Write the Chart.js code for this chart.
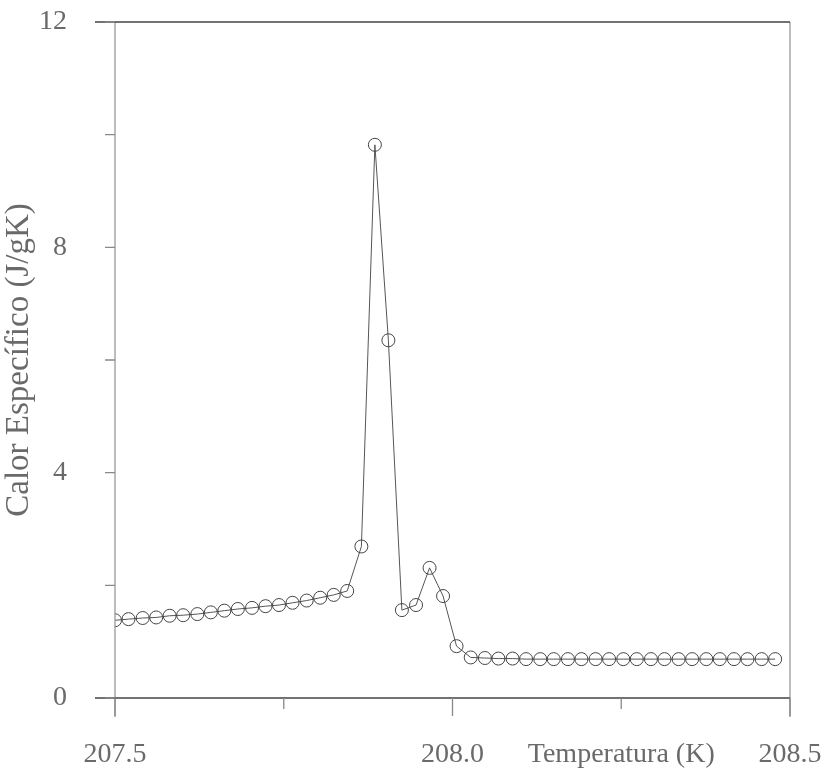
<!DOCTYPE html>
<html>
<head>
<meta charset="utf-8">
<script src="https://cdn.jsdelivr.net/npm/chart.js@4"></script>
<style>
  html, body { margin: 0; padding: 0; background: #fff; }
  #wrap { width: 835px; height: 770px; }
</style>
</head>
<body>
<div id="wrap"><canvas id="grafica" width="835" height="770"></canvas></div>
<script>
// temperatura (K)
const temperaturas = [
  207.500, 207.520, 207.541, 207.561, 207.581, 207.601, 207.622, 207.642,
  207.662, 207.682, 207.703, 207.723, 207.743, 207.763, 207.784, 207.804,
  207.824, 207.844, 207.865, 207.885, 207.905, 207.925, 207.946, 207.966,
  207.986, 208.006, 208.027, 208.048, 208.068, 208.089, 208.109, 208.130,
  208.150, 208.171, 208.191, 208.212, 208.232, 208.253, 208.273, 208.294,
  208.314, 208.335, 208.355, 208.376, 208.396, 208.417, 208.437, 208.458,
  208.478
];
// calor especifico (J/gK)
const calor = [
  1.38, 1.40, 1.42, 1.43, 1.46, 1.47, 1.49, 1.52,
  1.55, 1.58, 1.60, 1.63, 1.65, 1.69, 1.73, 1.78,
  1.83, 1.90, 2.69, 9.82, 6.35, 1.56, 1.65, 2.31,
  1.81, 0.92, 0.72, 0.71, 0.70, 0.70, 0.69, 0.69,
  0.69, 0.69, 0.69, 0.69, 0.69, 0.69, 0.69, 0.69,
  0.69, 0.69, 0.69, 0.69, 0.69, 0.69, 0.69, 0.69,
  0.69
];
const xTicks = [207.5, 207.75, 208.0, 208.25, 208.5];
const xTickLabels = ['207.5', '', '208.0', 'Temperatura (K)', '208.5'];
const yTicks = [0, 2, 4, 6, 8, 10, 12];
const yTickLabels = ['0', '', '4', '', '8', '', '12'];

const gris = '#6a6a6a';
const serif = "'Liberation Serif', 'DejaVu Serif', serif";
const fuente = { family: serif, size: 28 };

// marco y marcas de los ejes, dibujados desde las escalas
const marco = {
  id: 'marco',
  afterDraw(chart) {
    const { ctx, chartArea: a, scales: { x, y } } = chart;
    ctx.save();
    ctx.lineWidth = 1.3;
    ctx.strokeStyle = '#999';
    ctx.beginPath();
    ctx.moveTo(a.left, a.top); ctx.lineTo(a.left, a.bottom + 19);
    ctx.moveTo(a.right, a.top); ctx.lineTo(a.right, a.bottom + 19);
    ctx.stroke();
    ctx.strokeStyle = '#444';
    ctx.beginPath();
    ctx.moveTo(a.left - 20, a.bottom); ctx.lineTo(a.right, a.bottom);
    ctx.moveTo(a.left - 20, a.top); ctx.lineTo(a.right, a.top);
    ctx.stroke();
    ctx.strokeStyle = '#888';
    ctx.beginPath();
    xTicks.forEach((v, i) => {
      const px = x.getPixelForValue(v);
      ctx.moveTo(px, a.bottom);
      ctx.lineTo(px, a.bottom + (i % 2 === 0 ? 18 : 11));
    });
    yTicks.forEach((v, i) => {
      const py = y.getPixelForValue(v);
      ctx.moveTo(a.left, py);
      ctx.lineTo(a.left - 10, py);
    });
    ctx.stroke();
    ctx.restore();
  }
};

new Chart(document.getElementById('grafica').getContext('2d'), {
  type: 'line',
  data: {
    datasets: [{
      data: temperaturas.map((t, i) => ({ x: t, y: calor[i] })),
      borderColor: '#555',
      borderWidth: 1,
      pointRadius: 6.5,
      pointBorderColor: '#444',
      pointBorderWidth: 1,
      pointBackgroundColor: 'rgba(0,0,0,0)',
      tension: 0,
      fill: false
    }]
  },
  options: {
    responsive: false,
    animation: false,
    layout: { padding: { top: 22, right: 45, bottom: 0, left: 0 } },
    plugins: { legend: { display: false }, tooltip: { enabled: false } },
    scales: {
      x: {
        type: 'linear',
        min: 207.5,
        max: 208.5,
        afterBuildTicks: s => { s.ticks = xTicks.map(v => ({ value: v })); },
        afterFit: s => { s.height = 72; s.paddingLeft = 0; s.paddingRight = 0; },
        grid: { display: false },
        border: { display: false },
        ticks: {
          autoSkip: false,
          maxRotation: 0,
          padding: 32,
          color: gris,
          font: fuente,
          callback: (v, i) => xTickLabels[i]
        }
      },
      y: {
        min: 0,
        max: 12,
        afterBuildTicks: s => { s.ticks = yTicks.map(v => ({ value: v })); },
        afterFit: s => { s.width = 115; s.paddingTop = 0; s.paddingBottom = 0; },
        grid: { display: false },
        border: { display: false },
        ticks: {
          autoSkip: false,
          padding: 40,
          color: gris,
          font: fuente,
          callback: (v, i) => yTickLabels[i]
        },
        title: {
          display: true,
          text: 'Calor Específico (J/gK)',
          color: gris,
          font: { family: serif, size: 33 },
          padding: { top: 0, bottom: 0 }
        }
      }
    }
  },
  plugins: [marco]
});
</script>
</body>
</html>
